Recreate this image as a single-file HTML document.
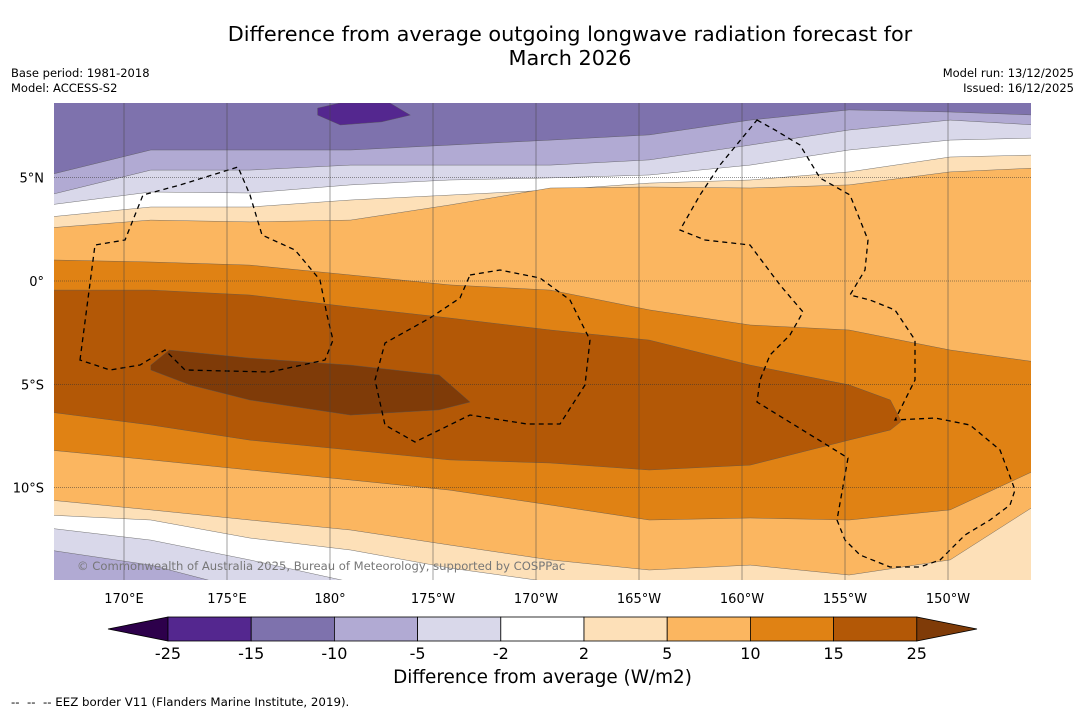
<!DOCTYPE html>
<html><head><meta charset="utf-8">
<style>
body{margin:0;background:#fff;font-family:"Liberation Sans","DejaVu Sans",sans-serif;}
#wrap{position:relative;width:1085px;height:713px;overflow:hidden;background:#fff;}
.t{position:absolute;color:#000;}
</style></head>
<body>
<div id="wrap">
<div class="t" style="left:120px;width:900px;top:22px;text-align:center;font-size:20.8px;line-height:24px;font-family:'DejaVu Sans',sans-serif;">Difference from average outgoing longwave radiation forecast for<br>March 2026</div>
<div class="t" style="left:11px;top:66px;font-size:11.5px;line-height:15px;font-family:'DejaVu Sans',sans-serif;">Base period: 1981-2018<br>Model: ACCESS-S2</div>
<div class="t" style="right:11px;top:66px;font-size:11.5px;line-height:15px;text-align:right;font-family:'DejaVu Sans',sans-serif;">Model run: 13/12/2025<br>Issued: 16/12/2025</div>
<svg id="svg" width="1085" height="713" style="position:absolute;left:0;top:0"></svg>
<div class="t" style="left:250px;width:585px;top:667px;text-align:center;font-size:18.4px;font-family:'DejaVu Sans',sans-serif;">Difference from average (W/m2)</div>
<div class="t" style="left:11px;top:695px;font-size:11.8px;font-family:'DejaVu Sans',sans-serif;">--&nbsp; --&nbsp; -- EEZ border V11 (Flanders Marine Institute, 2019).</div>
</div>
<script>
const lonTicks=[170,175,180,185,190,195,200,205,210];
const lonLabels=["170°E","175°E","180°","175°W","170°W","165°W","160°W","155°W","150°W"];
const latTicks=[5,0,-5,-10];
const latLabels=["5°N","0°","5°S","10°S"];
const levels=["-25","-15","-10","-5","-2","2","5","10","15","25"];
const bandColors=["#54278f","#7e72ad","#b1aad3","#d9d8ea","#ffffff","#fde0b8","#fbb660","#e08214","#b35806"];
const underColor="#2d004b", overColor="#7f3b08";
const lons=[166.6,171.3,176.1,181,185.8,190.7,195.5,200.4,205.2,210.1,214];
const b1=[5.13,6.34,6.34,6.34,6.58,6.82,7.07,7.79,8.28,8.18,8.03];
const b2=[4.16,5.37,5.37,5.61,5.61,5.61,5.86,6.58,7.31,7.79,7.55];
const b3=[3.68,4.31,4.26,4.65,4.89,4.99,5.13,5.61,6.34,6.82,6.92];
const b4=[3.10,3.58,3.58,3.92,4.16,4.40,4.74,4.89,5.28,6.00,6.10];
const b5=[2.57,2.95,2.86,2.95,3.68,4.50,4.55,4.50,4.65,5.28,5.47];
const b6=[1.02,0.92,0.77,0.29,-0.19,-0.44,-1.40,-2.13,-2.37,-3.34,-3.92];
const b8=[-8.18,-8.66,-9.15,-9.63,-10.12,-10.84,-11.57,-11.47,-11.57,-11.08,-9.15];
const b9=[-10.60,-11.08,-11.57,-12.05,-12.78,-13.50,-13.99,-13.75,-14.23,-13.50,-10.84];
const b10=[-11.33,-11.57,-12.44,-13.02,-13.89,-14.57,-15,-15,-15,-15,-15];
const b11=[-11.96,-12.54,-13.50,-14.57,-15,-15,-15,-15,-15,-15,-15];
const b12=[-13.02,-13.75,-15,-15,-15,-15,-15,-15,-15,-15,-15];
const brownLon=[166.6,171.3,176.1,181,185.8,190.7,195.5,200.4,205.2,207.2,207.7];
const brownTop=[-0.44,-0.44,-0.68,-1.26,-1.79,-2.37,-2.86,-4.07,-5.03,-5.76,-6.73];
const brownBot=[-6.34,-6.97,-7.70,-8.18,-8.66,-8.81,-9.15,-8.91,-7.70,-7.21,-6.82];
const blobLon=[171.3,172.2,176.1,181.0,185.3,186.8,185.3,181.0,176.1,173.2,171.3];
const blobLat=[-4.07,-3.34,-3.73,-4.07,-4.55,-5.86,-6.24,-6.49,-5.76,-5.03,-4.31];
const topLon=[179.4,180.5,182.9,183.9,182.5,180.5,179.4];
const topLat=[8.37,8.62,8.62,8.03,7.70,7.55,8.03];

const X0=54,X1=1031,Y0=103,Y1=580;
const xs=lon=>124+(lon-170)*20.6;
const ys=lat=>281-lat*20.66;
const NS="http://www.w3.org/2000/svg";
const svg=document.getElementById('svg');
function mk(tag,attrs,parent){const e=document.createElementNS(NS,tag);for(const k in attrs)e.setAttribute(k,attrs[k]);(parent||svg).appendChild(e);return e;}
const defs=mk('defs',{});
const cp=mk('clipPath',{id:'mc'},defs);mk('rect',{x:X0,y:Y0,width:X1-X0,height:Y1-Y0},cp);
const g=mk('g',{'clip-path':'url(#mc)'});


const bg=mk('rect',{x:X0,y:Y0,width:X1-X0,height:Y1-Y0,fill:bandColors[1]},g);


function below(arr,color,name){
  let d='M'+(X0-5)+','+(Y1+10);
  arr.forEach((v,i)=>{let x=xs(lons[i]);if(i==0)x=X0-5;if(i==arr.length-1)x=X1+5;d+=' L'+x.toFixed(1)+','+ys(v).toFixed(1);});
  d+=' L'+(X1+5)+','+(Y1+10)+' Z';
  const p=mk('path',{d:d,fill:color,stroke:'#555','stroke-width':0.4},g);
  
  
}
function poly(lo,la,color,name){
  let d='';lo.forEach((v,i)=>{d+=(i?' L':'M')+xs(v).toFixed(1)+','+ys(la[i]).toFixed(1);});d+=' Z';
  const p=mk('path',{d:d,fill:color,stroke:'#555','stroke-width':0.4},g);
  
  
}
below(b1,bandColors[2],'band-light-purple');
below(b2,bandColors[3],'band-pale-purple');
below(b3,bandColors[4],'band-white-north');
below(b4,bandColors[5],'band-pale-orange-north');
below(b5,bandColors[6],'band-light-orange');
below(b6,bandColors[7],'band-orange');
{
  let d='';
  brownLon.forEach((v,i)=>{const x=i==0?X0-5:xs(v);d+=(i?' L':'M')+x.toFixed(1)+','+ys(brownTop[i]).toFixed(1);});
  for(let i=brownLon.length-1;i>=0;i--){const x=i==0?X0-5:xs(brownLon[i]);d+=' L'+x.toFixed(1)+','+ys(brownBot[i]).toFixed(1);}
  const p=mk('path',{d:d+' Z',fill:bandColors[8],stroke:'#555','stroke-width':0.4},g);
  
  
}
poly(blobLon,blobLat,overColor,'band-dark-brown');
poly(topLon,topLat,bandColors[0],'band-dark-purple');
below(b8,bandColors[6],'band-light-orange-south');
below(b9,bandColors[5],'band-pale-orange-south');
below(b10,bandColors[4],'band-white-south');
below(b11,bandColors[3],'band-pale-purple-south');
below(b12,bandColors[2],'band-light-purple-south');

const eez=[
"M80,360 L95,245 L125,240 L143,195 L180,185 L238,167 L250,195 L262,235 L295,250 L320,280 L327,315 L333,340 L325,360 L270,372 L185,370 L165,350 L140,365 L110,370 Z",
"M470,275 L500,270 L540,278 L570,300 L590,340 L585,385 L560,424 L527,424 L470,415 L415,442 L385,425 L375,380 L385,343 L430,318 L460,298 Z",
"M757,120 L775,130 L800,145 L820,178 L850,195 L868,240 L865,270 L850,295 L870,300 L895,310 L915,340 L915,380 L895,420 L935,418 L970,425 L1000,450 L1015,490 L1010,505 L990,520 L965,535 L940,560 L920,567 L890,567 L860,555 L845,540 L837,520 L848,458 L757,402 L760,380 L770,355 L790,335 L803,312 L780,285 L750,245 L705,240 L680,230 L700,195 L720,165 Z"];
eez.forEach((d,i)=>{const p=mk('path',{d:d,fill:'none',stroke:'#000','stroke-width':1.3,'stroke-dasharray':'5,4'},g);

});

lonTicks.forEach((v,i)=>{const x=xs(v);
 const l=mk('line',{x1:x,x2:x,y1:Y0,y2:Y1,stroke:'#444','stroke-width':0.5},g);
 
 
 const t=mk('text',{x:x,y:603,'text-anchor':'middle','font-size':13,'font-family':'DejaVu Sans, sans-serif'});t.textContent=lonLabels[i];
 
 });
latTicks.forEach((v,i)=>{const y=ys(v);
 const l=mk('line',{x1:X0,x2:X1,y1:y,y2:y,stroke:'#333','stroke-width':0.5,'stroke-dasharray':'1,1'},g);
 
 
 const t=mk('text',{x:44,y:y+5,'text-anchor':'end','font-size':13,'font-family':'DejaVu Sans, sans-serif'});t.textContent=latLabels[i];
 
 });
const cr=mk('text',{x:77,y:570,'font-size':11.6,fill:'#777','font-family':'DejaVu Sans, sans-serif'});
cr.textContent='© Commonwealth of Australia 2025, Bureau of Meteorology, supported by COSPPac';



const cbX=168,cbW=83.2,cbY=617,cbH=24;
const cb=mk('g',{});


const ut=mk('polygon',{points:`${cbX},${cbY} ${cbX},${cbY+cbH} 108,${cbY+cbH/2}`,fill:underColor,stroke:'#000','stroke-width':0.8},cb);


bandColors.forEach((c,i)=>{const r=mk('rect',{x:cbX+i*cbW,y:cbY,width:cbW,height:cbH,fill:c,stroke:'#000','stroke-width':0.8},cb);
 
 });
const ex=cbX+bandColors.length*cbW;
const ot=mk('polygon',{points:`${ex},${cbY} ${ex},${cbY+cbH} 977,${cbY+cbH/2}`,fill:overColor,stroke:'#000','stroke-width':0.8},cb);


levels.forEach((v,i)=>{const t=mk('text',{x:cbX+i*cbW,y:659,'text-anchor':'middle','font-size':16,'font-family':'DejaVu Sans, sans-serif'},cb);t.textContent=v;
 
 });
</script>
</body></html>
